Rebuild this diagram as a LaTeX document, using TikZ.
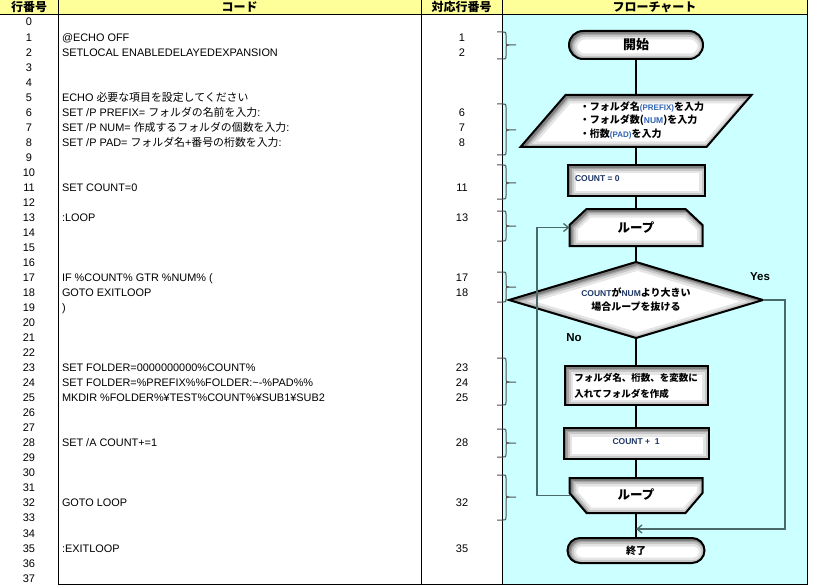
\documentclass[tikz,border=0pt]{standalone}
\usepackage{fontspec}
\setmainfont{Noto Sans CJK JP}
\newfontfamily\jp{Noto Sans CJK JP}
\newfontfamily\lat{Liberation Sans}
\usetikzlibrary{arrows.meta}
\definecolor{hdr}{HTML}{FFFF99}
\definecolor{fc}{HTML}{CCFFFF}
\definecolor{navy}{HTML}{1F3864}
\definecolor{vblue}{HTML}{2E64B4}
\definecolor{slate}{HTML}{4A6A6A}
\definecolor{brcol}{HTML}{505050}
\newcommand\ry[1]{22+15.03*#1}
\newcommand\bevel[1]{%
  \begin{scope}
    \clip #1;
    \fill[white] #1;
    \draw[line width=14pt, black!10, line join=round, shift={(1.5,1.5)}] #1;
    \draw[line width=9pt, black!22, line join=round, shift={(1.5,1.5)}] #1;
    \draw[line width=5pt, black!36, line join=round, shift={(1.5,1.5)}] #1;
    \draw[line width=2.5pt, black!50, line join=round, shift={(1.5,1.5)}] #1;
  \end{scope}
  \draw[line width=2pt] #1;}
\newcommand\brc[3]{%
  \draw[brc] (497,#1) -- (503,#1) .. controls (506,#1) .. (506,#1+3) -- (506,#2-3) .. controls (506,#2) .. (509,#2) -- (516,#2);
  \draw[brc] (497,#3) -- (503,#3) .. controls (506,#3) .. (506,#3-3) -- (506,#2+3) .. controls (506,#2) .. (509,#2);}
\begin{document}
\begin{tikzpicture}[x=1pt,y=-1pt,
  every node/.style={inner sep=0pt,outer sep=0pt},
  rownum/.style={font=\lat\fontsize{11}{11}\selectfont,text height=9pt,text depth=1pt},
  code/.style={font=\lat\fontsize{10.9}{11}\selectfont,text height=9pt,text depth=1pt,anchor=west},
  hd/.style={font=\bfseries\fontsize{12}{12}\selectfont},
  fnode/.style={font=\bfseries\fontsize{10}{14}\selectfont,align=center},
  conn/.style={line width=2pt},
  back/.style={draw=slate,line width=1.3pt,-{Straight Barb[length=5pt,width=8pt]}},
  brc/.style={draw=brcol,line width=1pt},
  lbl/.style={font=\lat\bfseries\fontsize{11.5}{11.5}\selectfont}]
\useasboundingbox (0,0) rectangle (813,588);
% backgrounds
\fill[hdr] (0,0) rectangle (807,14);
\fill[fc] (502,14) rectangle (807,584);
% grid
\draw[line width=1pt] (0,14.5) -- (807,14.5);
\draw[line width=1pt] (58.5,0) -- (58.5,584.5) -- (807.5,584.5) -- (807.5,0);
\draw[line width=1pt] (421.5,0) -- (421.5,584.5);
\draw[line width=1pt] (502.5,0) -- (502.5,584.5);
% headers
\node[hd] (h1) at (29,7) {行番号};
\node[hd] (h2) at (239.5,7) {コード};
\node[hd] (h3) at (461.5,7) {対応行番号};
\node[hd] (h4) at (654.5,7) {フローチャート};
% row numbers
\foreach \i in {0,...,37} \node[rownum] (r\i) at (29,{\ry{\i}}) {\i};
\foreach \i in {1,2,6,7,8,11,13,17,18,23,24,25,28,32,35} \node[rownum] (k\i) at (462,{\ry{\i}}) {\i};
% code
\node[code] (c1) at (62,{\ry{1}}) {@ECHO OFF};
\node[code] (c2) at (62,{\ry{2}}) {SETLOCAL ENABLEDELAYEDEXPANSION};
\node[code] (c5) at (62,{\ry{5}}) {ECHO {\jp 必要な項目を設定してください}};
\node[code] (c6) at (62,{\ry{6}}) {SET /P PREFIX= {\jp フォルダの名前を入力}:};
\node[code] (c7) at (62,{\ry{7}}) {SET /P NUM= {\jp 作成するフォルダの個数を入力}:};
\node[code] (c8) at (62,{\ry{8}}) {SET /P PAD= {\jp フォルダ名}+{\jp 番号の桁数を入力}:};
\node[code] (c11) at (62,{\ry{11}}) {SET COUNT=0};
\node[code] (c13) at (62,{\ry{13}}) {:LOOP};
\node[code] (c17) at (62,{\ry{17}}) {IF \%COUNT\% GTR \%NUM\% (};
\node[code] (c18) at (62,{\ry{18}}) {GOTO EXITLOOP};
\node[code] (c19) at (62,{\ry{19}}) {)};
\node[code] (c23) at (62,{\ry{23}}) {SET FOLDER=0000000000\%COUNT\%};
\node[code] (c24) at (62,{\ry{24}}) {SET FOLDER=\%PREFIX\%\%FOLDER:\textasciitilde-\%PAD\%\%};
\node[code] (c25) at (62,{\ry{25}}) {MKDIR \%FOLDER\%¥TEST\%COUNT\%¥SUB1¥SUB2};
\node[code] (c28) at (62,{\ry{28}}) {SET /A COUNT+=1};
\node[code] (c32) at (62,{\ry{32}}) {GOTO LOOP};
\node[code] (c35) at (62,{\ry{35}}) {:EXITLOOP};
% braces
\brc{32}{45}{59}
\brc{104}{130}{155}
\brc{165}{183}{199}
\brc{211}{226}{241}
\brc{272}{287}{302}
\brc{358}{382}{405}
\brc{429}{443}{457}
\brc{475}{497}{520}
% shapes
\bevel{[rounded corners=14pt] (569,31) rectangle (703,59)}
\bevel{(565.5,95) -- (751.5,95) -- (706.5,147) -- (520.5,147) -- cycle}
\bevel{(567.5,165) rectangle (704.5,196)}
\bevel{(586.5,209) -- (685.5,209) -- (702.5,225) -- (702.5,246) -- (569.5,246) -- (569.5,225) -- cycle}
\bevel{(509,300) -- (636,262) -- (763,300) -- (636,338) -- cycle}
\bevel{(564.5,366) rectangle (707.5,405)}
\bevel{(563.5,428) rectangle (708.5,459)}
\bevel{(569.5,478) -- (702.5,478) -- (702.5,493) -- (685.5,513) -- (586.5,513) -- (569.5,493) -- cycle}
\bevel{[rounded corners=12.5pt] (567.5,538) rectangle (704.5,563)}
% flow nodes
\node[fnode,minimum width=134,minimum height=28,font=\bfseries\fontsize{13}{13}\selectfont] (start) at (636,45) {開始};
\node[fnode,minimum width=231,minimum height=52,font=\bfseries\fontsize{10}{13.5}\selectfont] (para) at (636,121) {\begin{tabular}{@{\hspace{12pt}}l@{}}
・フォルダ名{\lat\fontsize{8}{8}\selectfont\color{vblue}(PREFIX)}を入力\\
・フォルダ数({\lat\fontsize{8.5}{8}\selectfont\color{vblue}NUM})を入力\\
・桁数{\lat\fontsize{8}{8}\selectfont\color{vblue}(PAD)}を入力
\end{tabular}};
\node[fnode,minimum width=137,minimum height=31] (cnt0) at (636,180.5) {\makebox[122pt][l]{\raisebox{3.5pt}{\lat\bfseries\fontsize{8.5}{8}\selectfont\color{navy}COUNT = 0}}};
\node[fnode,minimum width=133,minimum height=37,font=\bfseries\fontsize{12.5}{12.5}\selectfont] (ls) at (636,227.5) {\raisebox{-3pt}{ループ}};
\node[fnode,minimum width=254,minimum height=76] (dia) at (636,300) {{\lat\fontsize{8.5}{8}\selectfont\color{navy}COUNT}が{\lat\fontsize{8.5}{8}\selectfont\color{navy}NUM}より大きい\\場合ループを抜ける};
\node[fnode,minimum width=143,minimum height=39,font=\bfseries\fontsize{9.5}{16}\selectfont,align=left] (proc) at (636,385.5) {フォルダ名、桁数、を変数に\\入れてフォルダを作成};
\node[fnode,minimum width=145,minimum height=31] (cnt1) at (636,443.5) {\raisebox{3.5pt}{\lat\bfseries\fontsize{8.5}{8}\selectfont\color{navy}COUNT +\ \ 1}};
\node[fnode,minimum width=133,minimum height=35,font=\bfseries\fontsize{12.5}{12.5}\selectfont] (le) at (636,495.5) {\raisebox{3pt}{ループ}};
\node[fnode,minimum width=137,minimum height=25,font=\bfseries\fontsize{10}{10}\selectfont] (fin) at (636,550.5) {終了};
\node[lbl] (yes) at (760,277) {Yes};
\node[lbl] (no) at (574,338) {No};
\coordinate (mj) at (636,529);
% connectors
\draw[conn] (start) -- (para);
\draw[conn] (para) -- (cnt0);
\draw[conn] (cnt0) -- (ls);
\draw[conn] (ls) -- (dia);
\draw[conn] (dia) -- (proc);
\draw[conn] (proc) -- (cnt1);
\draw[conn] (cnt1) -- (le);
\draw[conn] (le) -- (fin);
\draw[back] (le.west) -- ++(-32.5,0) |- (ls.west);
\draw[back] (dia.east) -- ++(22,0) |- (mj);
\end{tikzpicture}
\end{document}
